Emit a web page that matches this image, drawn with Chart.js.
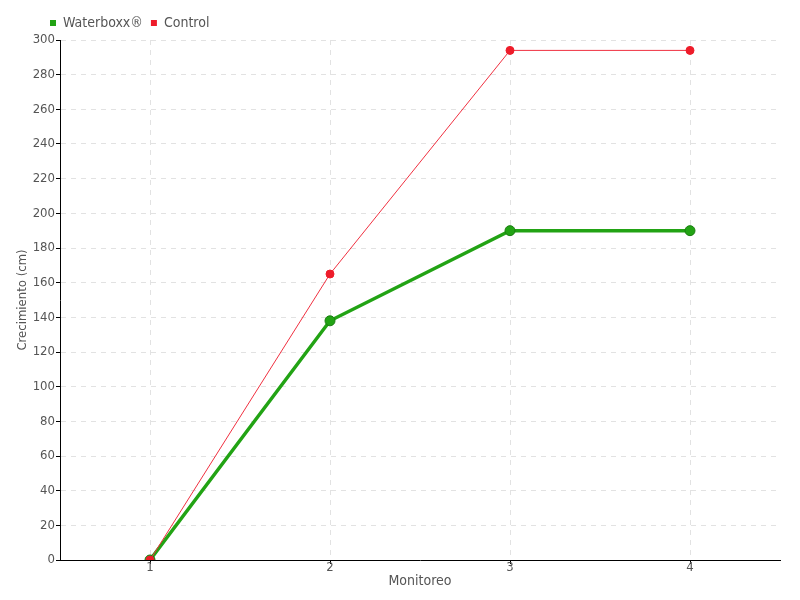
<!DOCTYPE html>
<html>
<head>
<meta charset="utf-8">
<script src="https://cdn.jsdelivr.net/npm/chart.js@4"></script>
<style>
  html, body { margin: 0; padding: 0; background: #fff; }
  #wrap { width: 800px; height: 600px; }
</style>
</head>
<body>
<div id="wrap"><canvas id="myChart"></canvas></div>
<script>
const monitoreo = ['1', '2', '3', '4'];
const waterboxx = [0, 138, 190, 190];
const control = [0, 165, 294, 294];
const yTicks = [0, 20, 40, 60, 80, 100, 120, 140, 160, 180, 200, 220, 240, 260, 280, 300];

const FONT = "'DejaVu Sans Condensed', sans-serif";
Chart.defaults.font.family = FONT;
Chart.defaults.color = '#555';

// mueve la leyenda a la derecha, como en el original
const legendShift = {
    id: 'legendShift',
    afterLayout(chart) {
        chart.legend.left += 42;
    }
};

const ctx = document.getElementById('myChart');
const chart = new Chart(ctx, {
    type: 'line',
    data: {
        labels: monitoreo,
        datasets: [
            {
                label: 'Waterboxx®',
                data: waterboxx,
                borderColor: '#22a314',
                backgroundColor: '#22a314',
                pointBackgroundColor: '#22a314',
                pointBorderColor: '#1a7d10',
                pointBorderWidth: 1,
                pointRadius: 5,
                borderWidth: 3.5,
                order: 1,
            },
            {
                label: 'Control',
                data: control,
                borderColor: '#f03040',
                backgroundColor: '#ee1c2a',
                pointBackgroundColor: '#ee1c2a',
                pointBorderColor: '#ee1c2a',
                pointRadius: 4,
                borderWidth: 1,
                order: 0,
            }
        ]
    },
    plugins: [legendShift],
    options: {
        responsive: true,
        maintainAspectRatio: false,
        animation: false,
        layout: { padding: { left: 0, right: 20, top: 8, bottom: 0 } },
        plugins: {
            tooltip: { enabled: false },
            legend: {
                align: 'start',
                reverse: true,
                labels: {
                    boxWidth: 6,
                    boxHeight: 6,
                    padding: 8,
                    font: { size: 14 },
                    color: '#555',
                    generateLabels: (c) => Chart.defaults.plugins.legend.labels.generateLabels(c)
                        .map(item => ({ ...item, lineWidth: 0, strokeStyle: 'rgba(0,0,0,0)' }))
                }
            }
        },
        scales: {
            x: {
                offset: true,
                grid: {
                    offset: false,
                    color: '#e2e2e2',
                    tickColor: '#000',
                    tickLength: 4,
                    tickBorderDash: [],
                },
                border: { color: '#000', width: 1, dash: [5, 5] },
                ticks: { font: { size: 13 }, color: '#555', padding: -4 },
                title: { display: true, text: 'Monitoreo', font: { size: 14 }, color: '#555', padding: { top: 0, bottom: 10 } },
                afterFit: (scale) => { scale.height = 40; }
            },
            y: {
                min: 0,
                max: 300,
                afterBuildTicks: (scale) => { scale.ticks = yTicks.map(v => ({ value: v })); },
                grid: {
                    color: '#e2e2e2',
                    tickColor: '#000',
                    tickLength: 4,
                    tickBorderDash: [],
                },
                border: { color: '#000', width: 1, dash: [5, 5] },
                ticks: { font: { size: 13 }, color: '#555', padding: 1 },
                title: { display: true, text: 'Crecimiento (cm)', font: { size: 13 }, color: '#555', padding: { top: 15, bottom: 0 } },
                afterFit: (scale) => { scale.width = 60; }
            }
        }
    }
});
</script>
</body>
</html>
